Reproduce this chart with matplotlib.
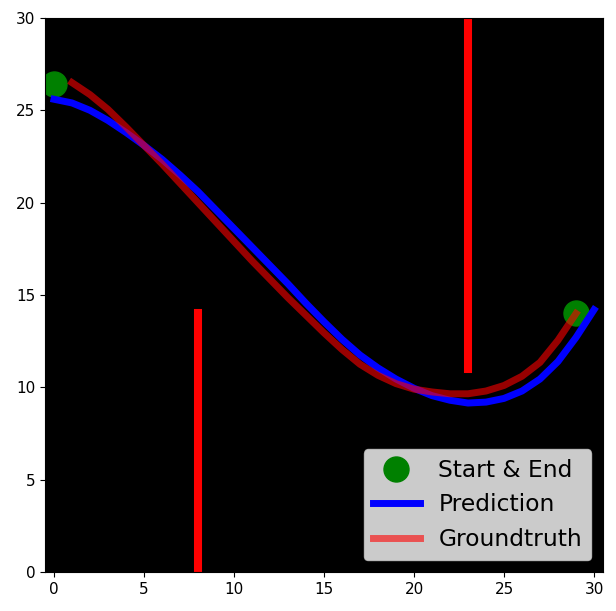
import matplotlib
matplotlib.use("Agg")
import matplotlib.pyplot as plt
import numpy as np

# trajectory values
pred_x = list(range(0, 31))
pred_y = [25.6, 25.4, 25.0, 24.45, 23.8, 23.1, 22.35, 21.5, 20.6, 19.6,
          18.6, 17.6, 16.6, 15.6, 14.55, 13.55, 12.6, 11.75, 11.05, 10.45,
          9.95, 9.55, 9.3, 9.15, 9.2, 9.4, 9.8, 10.45, 11.4, 12.7, 14.2]

gt_x = list(range(1, 30))
gt_y = [26.5, 25.85, 25.05, 24.1, 23.1, 22.1, 21.05, 20.0, 18.95, 17.9,
        16.85, 15.85, 14.85, 13.9, 12.95, 12.05, 11.25, 10.65, 10.2, 9.9,
        9.75, 9.65, 9.65, 9.8, 10.1, 10.6, 11.35, 12.55, 14.0]

start_end_x = [0, 29]
start_end_y = [26.45, 14.0]

# obstacles: (x, y_bottom, y_top)
obstacles = [(8, 0, 14), (23, 11, 30)]

fig = plt.figure(figsize=(6.16, 6.11), dpi=100)
ax = fig.add_axes([45 / 616, 39 / 611, 558 / 616, 554 / 611])
ax.set_facecolor("black")

for ox, y0, y1 in obstacles:
    ax.plot([ox, ox], [y0, y1], color="red", linewidth=5.8)

ax.plot(start_end_x, start_end_y, "o", color="green", markersize=18,
        label="Start & End")
ax.plot(pred_x, pred_y, color="blue", linewidth=5, label="Prediction")
ax.plot(gt_x, gt_y, color="red", alpha=0.6, linewidth=5, label="Groundtruth")

ax.set_xlim(-0.5, 30.5)
ax.set_ylim(0, 30)
ax.set_xticks(np.arange(0, 31, 5))
ax.set_yticks(np.arange(0, 31, 5))
ax.tick_params(labelsize=11)
ax.legend(loc="lower right", fontsize=16.8, numpoints=1)

plt.savefig("out.png", dpi=100)
